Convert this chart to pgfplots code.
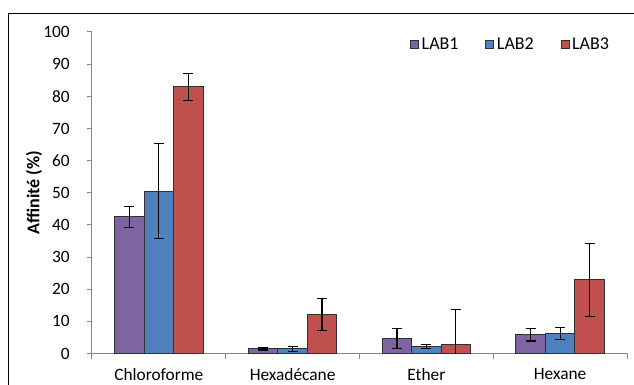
\documentclass[border=0pt]{standalone}
\usepackage{pgfplots}
\pgfplotsset{compat=1.18}
\usepackage{fontspec}
\setmainfont{Carlito}
\definecolor{lab1}{HTML}{8064A2}
\definecolor{lab2}{HTML}{4F81BD}
\definecolor{lab3}{HTML}{C0504D}
\definecolor{axisgray}{HTML}{868686}
\definecolor{barline}{HTML}{303030}

% x: 0 Chloroforme, 1 Hexadecane, 2 Ether, 3 Hexane
\pgfplotstableread{
x y err
0 42.5 3.3
1 1.4 0.3
2 4.6 3.1
3 5.8 1.9
}\labone
\pgfplotstableread{
x y err
0 50.5 14.8
1 1.4 0.8
2 2.2 0.6
3 6.3 1.9
}\labtwo
\pgfplotstableread{
x y err
0 83.0 4.2
1 12.1 5.0
2 2.9 10.8
3 22.9 11.3
}\labthree

\begin{document}
\fontsize{13.5}{16}\selectfont
\begin{tikzpicture}
\begin{axis}[
  scale only axis,
  width=401.25pt, height=241.1pt,
  xmin=-0.5, xmax=3.5,
  ymin=0, ymax=100,
  ytick={0,10,...,100},
  xtick={-0.5,0.5,1.5,2.5,3.5},
  xticklabels={},
  extra x ticks={0,1,2,3},
  extra x tick labels={Chloroforme,Hexadécane,Ether,Hexane},
  extra x tick style={major tick length=0pt, xticklabel style={yshift=-6.5pt}},
  axis x line*=bottom, axis y line*=left,
  axis line style={draw=axisgray, line width=0.75pt, -},
  tick style={draw=axisgray, line width=0.75pt},
  tick align=outside,
  major tick length=4pt,
  minor tick num=0,
  /pgf/number format/assume math mode=true,
  ticklabel style={font=\fontsize{13}{15}\selectfont},
  yticklabel style={xshift=-8pt},
  ylabel={\textbf{Affinité (\%)}},
  every axis y label/.style={at={(axis description cs:0,0.5)}, xshift=-43.5pt, rotate=90, anchor=center},
  ybar=0pt, bar width=22.1pt,
  every axis plot/.append style={draw=barline, line width=0.75pt},
  error bars/error bar style={black, line width=0.9pt},
  error bars/error mark options={rotate=90, black, mark size=3.75pt, line width=0.9pt},
  legend columns=3,
  legend style={at={(axis description cs:0.594,0.96)}, anchor=west, draw=none, fill=none,
    inner sep=0pt, font=\fontsize{13.5}{16}\selectfont,
    /tikz/every even column/.append style={column sep=18pt}},
  legend image code/.code={\draw[#1, line width=0.75pt] (0pt,-3pt) rectangle (6pt,3pt);},
  clip=true,
]
\addplot[fill=lab1, error bars/.cd, y dir=both, y explicit] table[x=x, y=y, y error=err] {\labone};
\addplot[fill=lab2, error bars/.cd, y dir=both, y explicit] table[x=x, y=y, y error=err] {\labtwo};
\addplot[fill=lab3, error bars/.cd, y dir=both, y explicit] table[x=x, y=y, y error=err] {\labthree};
\legend{LAB1,LAB2,LAB3}
\end{axis}
\pgfresetboundingbox
\draw[overlay, black, line width=0.75pt] ([xshift=-62.25pt, yshift=-23.6pt]current axis.south west)
  -- ([xshift=-62.25pt, yshift=254.6pt]current axis.south west)
  -- ([xshift=406.5pt, yshift=254.6pt]current axis.south west);
\path ([xshift=-69pt, yshift=-23.6pt]current axis.south west) rectangle ([xshift=406.5pt, yshift=265.1pt]current axis.south west);
\end{tikzpicture}
\end{document}
